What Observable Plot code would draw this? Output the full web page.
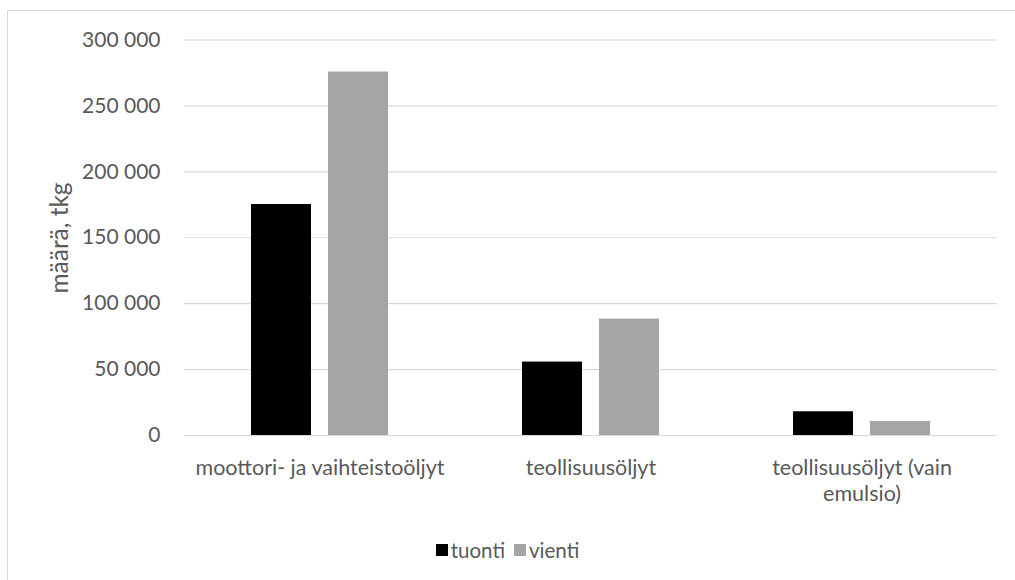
<!DOCTYPE html>
<html>
<head>
<meta charset="utf-8">
<script src="https://cdn.jsdelivr.net/npm/d3@7"></script>
<script src="https://cdn.jsdelivr.net/npm/@observablehq/plot@0.6"></script>
<style>
  html, body { margin: 0; padding: 0; background: #fff; overflow: hidden; }
  #wrap { position: relative; width: 1015px; height: 580px; overflow: hidden; background: #fff; }
  #frame { position: absolute; left: 6.5px; top: 9.5px; width: 1100px; height: 700px; border: 1px solid #d9d9d9; box-sizing: border-box; }
  #chart { position: absolute; left: 0; top: 0; }
  #ylabel { position: absolute; left: 59px; top: 238px; transform: translate(-50%, -50%) rotate(-90deg); white-space: nowrap; font-family: Lato, sans-serif; font-size: 24.5px; line-height: 1; color: #595959; }
  #legend { position: absolute; left: 0; top: 536px; width: 1015px; text-align: center; font-family: Lato, sans-serif; font-size: 20.5px; color: #595959; }
  .item { display: inline-flex; align-items: center; margin: 0 4.5px; }
  .sw { display: inline-block; width: 12px; height: 12px; margin-right: 3px; }
</style>
</head>
<body>
<div id="wrap">
  <div id="frame"></div>
  <div id="chart"></div>
  <div id="ylabel"></div>
  <div id="legend"></div>
</div>
<script>
const categories = ["moottori- ja vaihteistoöljyt", "teollisuusöljyt", "teollisuusöljyt (vain emulsio)"];
const categoryLabels = ["moottori- ja vaihteistoöljyt", "teollisuusöljyt", "teollisuusöljyt (vain\nemulsio)"];
const series = ["tuonti", "vienti"];
const tuonti = [175200, 55700, 18000];
const vienti = [275700, 88300, 10600];
const colors = ["#000000", "#a5a5a5"];
const yTicks = [0, 50000, 100000, 150000, 200000, 250000, 300000];
const yTitle = "määrä, tkg";

const data = [];
categories.forEach((c, i) => {
  data.push({category: c, series: "tuonti", value: tuonti[i]});
  data.push({category: c, series: "vienti", value: vienti[i]});
});

const fmt = d => d3.format(",")(d).replace(/,/g, " ");

const chart = Plot.plot({
  width: 1015,
  height: 520,
  marginTop: 39.5,
  marginBottom: 85,
  marginLeft: 183,
  marginRight: 17,
  style: {fontFamily: "Lato, sans-serif", fontSize: "21px", color: "#595959", background: "transparent"},
  fx: {domain: categories, padding: 0},
  x: {domain: series, paddingInner: 0.218, paddingOuter: 0.85, axis: null},
  y: {domain: [0, 300000]},
  color: {domain: series, range: colors},
  marks: [
    Plot.gridY(yTicks, {stroke: "#d9d9d9", strokeOpacity: 1, strokeWidth: 1.2}),
    Plot.barY(data, {fx: "category", x: "series", y: "value", fill: "series"}),
    Plot.ruleY([0], {stroke: "#d9d9d9", strokeWidth: 1.2}),
    Plot.axisY(yTicks, {
      tickSize: 0, tickPadding: 24, tickFormat: fmt, fontSize: 21, label: null
    }),
    Plot.axisFx({
      anchor: "bottom", tickSize: 0, tickPadding: 21, fontSize: 21.5, lineHeight: 1.2,
      label: null, tickFormat: d => categoryLabels[categories.indexOf(d)]
    })
  ]
});
document.getElementById("chart").appendChild(chart);
document.getElementById("ylabel").textContent = yTitle;

const legend = document.getElementById("legend");
series.forEach((s, i) => {
  const item = document.createElement("span");
  item.className = "item";
  const sw = document.createElement("span");
  sw.className = "sw";
  sw.style.background = colors[i];
  item.appendChild(sw);
  item.appendChild(document.createTextNode(s));
  legend.appendChild(item);
});
</script>
</body>
</html>
